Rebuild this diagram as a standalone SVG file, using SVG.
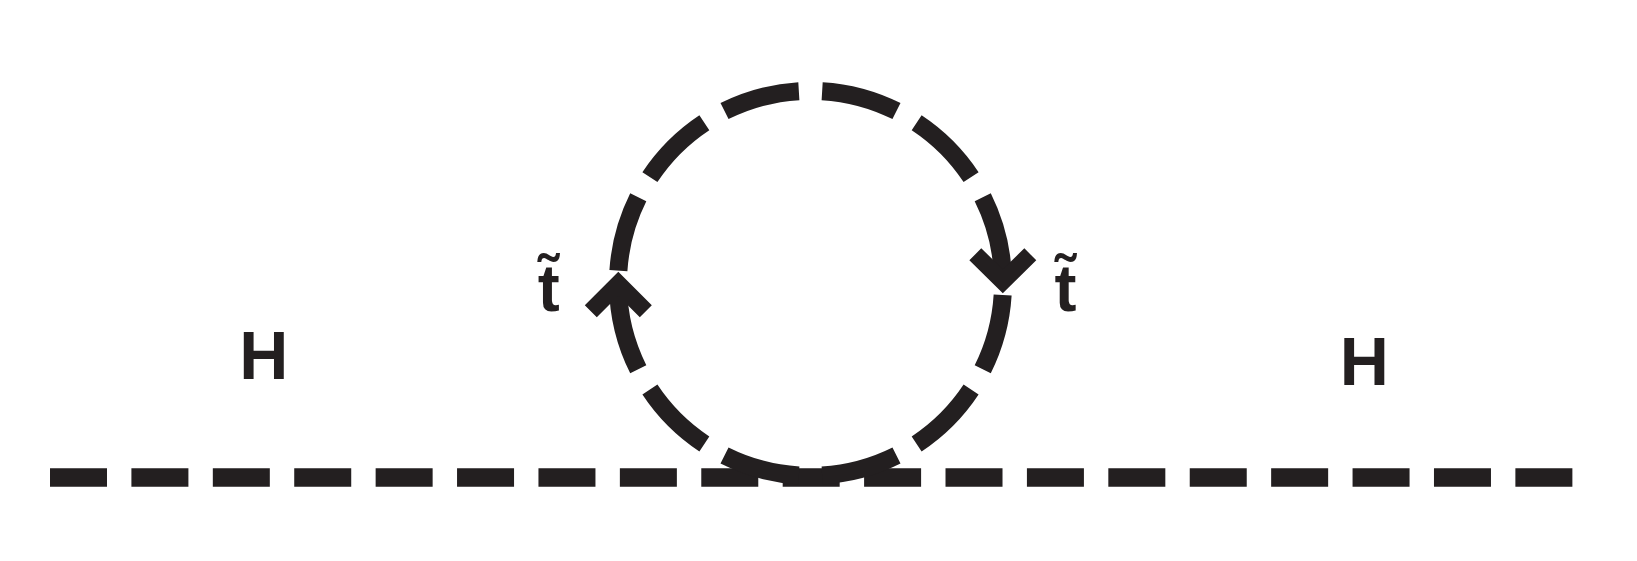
<svg xmlns="http://www.w3.org/2000/svg" width="1637" height="561" viewBox="0 0 1637 561">
<style>
.ln{fill:none;stroke:#231f20;stroke-width:18;stroke-linecap:butt}
.chev{fill:none;stroke:#231f20;stroke-width:17;stroke-linejoin:miter;stroke-miterlimit:10;stroke-linecap:butt}
.lbl{font-family:"Liberation Sans",Arial,sans-serif;font-weight:bold;fill:#231f20;text-anchor:middle}
</style>
<rect width="1637" height="561" fill="#ffffff"/>
<g id="connectors">
<line id="higgs-line" class="ln" x1="50" y1="477.5" x2="1572.4" y2="477.5" stroke-dasharray="57 24.41" style="stroke-width:18.5"/>
<g id="stop-loop">
<path class="ln" d="M822.15,91.15 A192.5,192.5 0 0 1 896.48,111.07"/>
<path class="ln" d="M916.65,122.71 A192.5,192.5 0 0 1 971.09,177.15"/>
<path class="ln" d="M982.73,197.32 A192.5,192.5 0 0 1 1002.97,280"/>
<path class="ln" d="M1002.64,295 A192.5,192.5 0 0 1 982.73,369.28"/>
<path class="ln" d="M971.09,389.45 A192.5,192.5 0 0 1 916.65,443.89"/>
<path class="ln" d="M896.48,455.53 A192.5,192.5 0 0 1 822.15,475.45"/>
<path class="ln" d="M798.85,475.45 A192.5,192.5 0 0 1 724.52,455.53"/>
<path class="ln" d="M704.35,443.89 A192.5,192.5 0 0 1 649.91,389.45"/>
<path class="ln" d="M638.27,369.28 A192.5,192.5 0 0 1 618.02,286"/>
<path class="ln" d="M618.41,270.7 A192.5,192.5 0 0 1 638.27,197.32"/>
<path class="ln" d="M649.91,177.15 A192.5,192.5 0 0 1 704.35,122.71"/>
<path class="ln" d="M724.52,111.07 A192.5,192.5 0 0 1 798.85,91.15"/>
<path id="arrow-left" class="chev" d="M590.8,311.2 L618.3,283.7 L645.8,311.2"/>
<path id="arrow-right" class="chev" d="M975.3,254.3 L1002.8,281.3 L1030.3,254.3"/>
</g>
</g>
<g id="label-H-left"><text class="lbl" x="263.8" y="379.3" font-size="68">H</text></g>
<g id="label-H-right"><text class="lbl" x="1364.2" y="385" font-size="68">H</text></g>
<g id="label-t-left"><text class="lbl" x="548.7" y="310.7" font-size="66">t̃</text></g>
<g id="label-t-right"><text class="lbl" x="1065.5" y="310.7" font-size="66">t̃</text></g>
</svg>
